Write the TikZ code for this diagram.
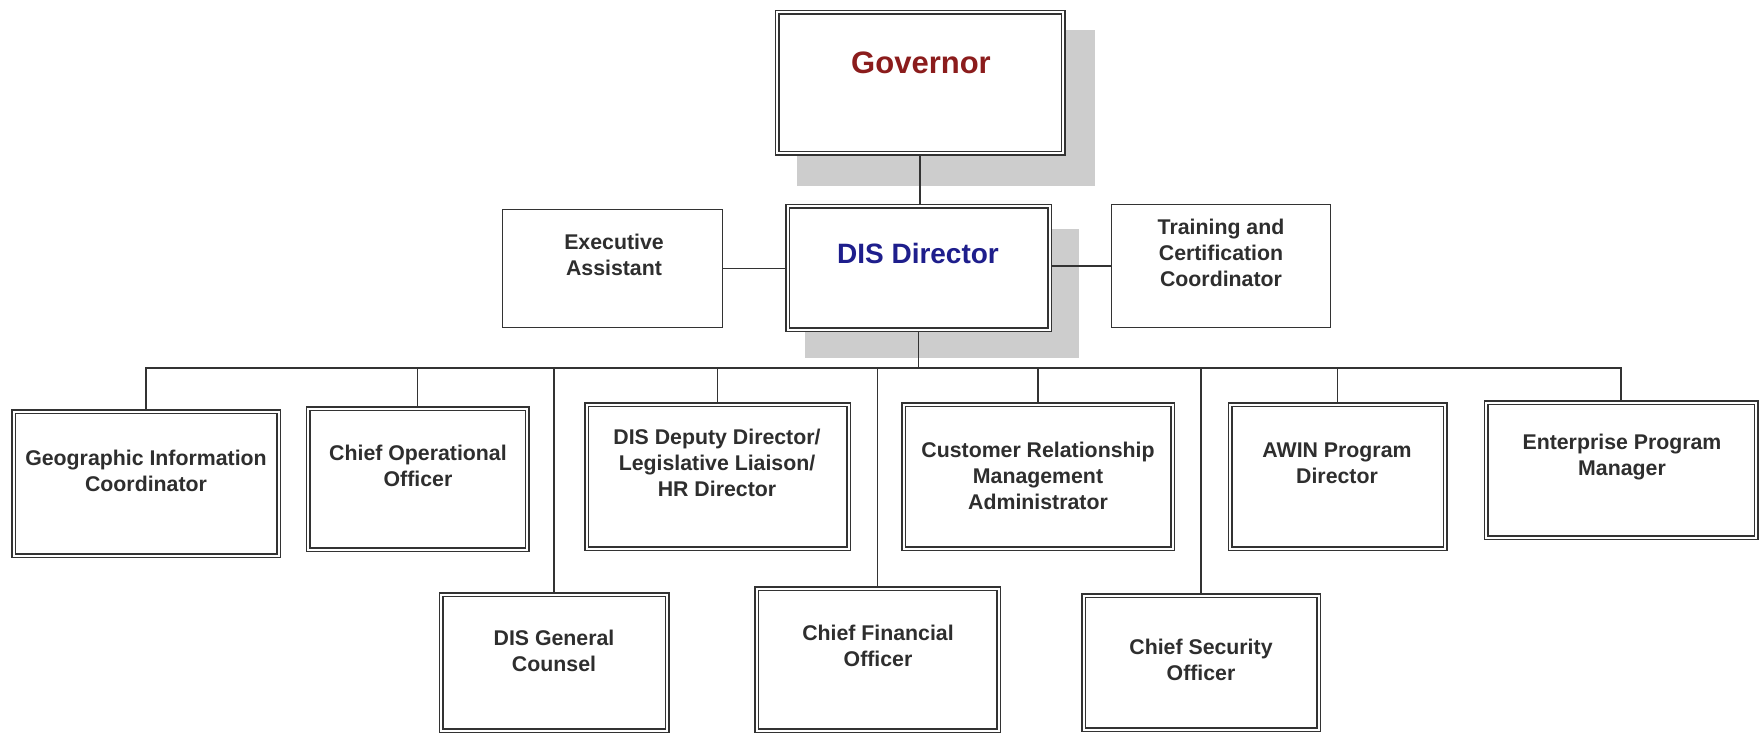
\documentclass[tikz,border=0pt]{standalone}
\usepackage{fontspec}
\setmainfont{Liberation Sans}
\usetikzlibrary{backgrounds}
\definecolor{linec}{HTML}{333333}
\definecolor{txtc}{HTML}{2E2E2E}
\definecolor{govred}{HTML}{8B1C1C}
\definecolor{dirblue}{HTML}{1E1E8C}
\definecolor{shadowc}{HTML}{CDCDCD}
\begin{document}
\begin{tikzpicture}[x=1pt,y=-1pt,
  dbox/.style={draw=linec, line width=1.5pt, double=white, double distance=2pt, fill=white, inner sep=0pt},
  sbox/.style={draw=linec, line width=1.5pt, fill=white, inner sep=0pt},
  conn/.style={draw=linec, line width=1.6pt},
  lbl/.style={align=center, text=txtc, inner sep=0pt, font=\fontsize{21.3}{26}\selectfont\bfseries},
]
\useasboundingbox (0,0) rectangle (1760,735);
% boxes
\node[dbox, minimum width=286pt, minimum height=141pt] (gov) at (920,83) {};
\node[dbox, minimum width=262pt, minimum height=123pt] (dir) at (918.5,268) {};
\node[sbox, minimum width=220pt, minimum height=118pt] (ea) at (612.5,268.5) {};
\node[sbox, minimum width=219pt, minimum height=123pt] (tr) at (1221,266) {};
\node[dbox, minimum width=265pt, minimum height=144pt] (geo) at (146,483.5) {};
\node[dbox, minimum width=219pt, minimum height=141pt] (cop) at (417.5,479) {};
\node[dbox, minimum width=226pt, minimum height=136pt] (gc) at (554,662.5) {};
\node[dbox, minimum width=262pt, minimum height=144pt] (dep) at (717.5,476.5) {};
\node[dbox, minimum width=242pt, minimum height=142pt] (cfo) at (877.5,659.5) {};
\node[dbox, minimum width=269pt, minimum height=144pt] (crm) at (1038,476.5) {};
\node[dbox, minimum width=235pt, minimum height=134pt] (cso) at (1201,662.5) {};
\node[dbox, minimum width=215pt, minimum height=144pt] (awin) at (1337.5,476.5) {};
\node[dbox, minimum width=270pt, minimum height=135pt] (ent) at (1621,470) {};
% texts
\node[lbl, text=govred, font=\fontsize{31}{36}\selectfont\bfseries] (gov-t) at (921,63) {Governor};
\node[lbl, text=dirblue, font=\fontsize{28}{33}\selectfont\bfseries] (dir-t) at (918,253) {DIS Director};
\node[lbl] (ea-t) at (614,255) {Executive\\Assistant};
\node[lbl] (tr-t) at (1221,253) {Training and\\Certification\\Coordinator};
\node[lbl] (geo-t) at (146,471) {Geographic Information\\Coordinator};
\node[lbl] (cop-t) at (418,466) {Chief Operational\\Officer};
\node[lbl] (dep-t) at (717,463) {DIS Deputy Director/\\Legislative Liaison/\\HR Director};
\node[lbl] (crm-t) at (1038,476) {Customer Relationship\\Management\\Administrator};
\node[lbl] (awin-t) at (1337,463) {AWIN Program\\Director};
\node[lbl] (ent-t) at (1622,457) {Enterprise Program\\Manager};
\node[lbl] (gc-t) at (554,651) {DIS General\\Counsel};
\node[lbl] (cfo-t) at (878,646) {Chief Financial\\Officer};
\node[lbl] (cso-t) at (1201,660) {Chief Security\\Officer};
\coordinate (bus) at (0,368);
\begin{scope}[on background layer]
  \fill[shadowc] ([shift={(21,18.5)}]gov.north west) rectangle ([shift={(31,31.5)}]gov.south east);
  \fill[shadowc] ([shift={(18.5,23.5)}]dir.north west) rectangle ([shift={(28.5,27.5)}]dir.south east);
  \draw[conn] (gov.south) -- (gov.south |- dir.north);
  \draw[conn] (ea.east) -- (dir.west |- ea.east);
  \draw[conn] (dir.east |- tr.west) -- (tr.west);
  \draw[conn] (dir.south) -- (dir.south |- bus);
  \draw[conn] (geo.north) -- (geo.north |- bus) -- (ent.north |- bus) -- (ent.north);
  \foreach \n in {cop,gc,dep,cfo,crm,cso,awin}
    \draw[conn] (\n.north) -- (\n.north |- bus);
\end{scope}
\end{tikzpicture}
\end{document}
